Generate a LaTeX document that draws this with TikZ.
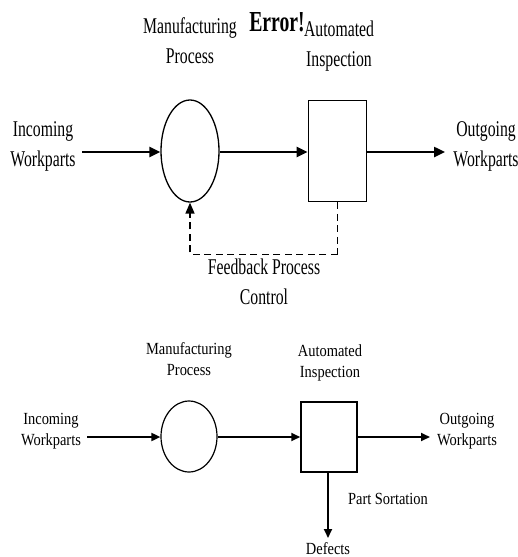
\documentclass[tikz,border=0pt]{standalone}
\usepackage{fontspec}
\setmainfont{Liberation Serif}
\usetikzlibrary{shapes.geometric,arrows.meta}
\newcommand{\cnd}[2]{\scalebox{#1}[1]{\begin{tabular}{@{}c@{}}#2\end{tabular}}}
\tikzset{
  topfont/.style={inner sep=0pt,font=\fontsize{22.5}{30}\selectfont},
  botfont/.style={inner sep=0pt,font=\fontsize{17}{21}\selectfont},
  arrA/.style={line width=2.4pt,-{Triangle[length=11pt,width=10pt]}},
  arrB/.style={line width=1.8pt,-{Triangle[length=9pt,width=8pt]}},
  procA/.style={ellipse,draw,line width=1.3pt,minimum width=58pt,minimum height=102pt,inner sep=0pt},
  boxA/.style={rectangle,draw,line width=1.8pt,minimum width=58pt,minimum height=101pt,inner sep=0pt},
  procB/.style={ellipse,draw,line width=1.2pt,minimum width=56pt,minimum height=71pt,inner sep=0pt},
  boxB/.style={rectangle,draw,line width=1.5pt,minimum width=56pt,minimum height=70pt,inner sep=0pt},
  fb/.style={line width=1.7pt,dash pattern=on 7pt off 4.5pt}
}
\begin{document}
\begin{tikzpicture}[x=1pt,y=-1pt]
\useasboundingbox (0,0) rectangle (518,557);
% ---- top diagram ----
\node[procA] (p1) at (190,151) {};
\node[boxA] (b1) at (337.5,151) {};
\node[topfont] (in1) at (43,145) {\cnd{0.7}{Incoming\\Workparts}};
\node[topfont] (out1) at (486,145) {\cnd{0.7}{Outgoing\\Workparts}};
\node[topfont] (mfg1) at (190,42) {\cnd{0.7}{Manufacturing\\Process}};
\node[topfont] (auto1) at (339,45) {\cnd{0.7}{Automated\\Inspection}};
\node[inner sep=0pt,font=\fontsize{29}{30}\selectfont\bfseries] (err) at (277,22) {\scalebox{0.68}[1]{Error!}};
\node[topfont] (fbt) at (264,283) {\cnd{0.7}{Feedback Process\\Control}};
\coordinate (s1) at (82,152);
\coordinate (e1) at (445,152);
\draw[arrA] (s1) -- (p1.west |- s1);
\draw[arrA] (p1.east |- s1) -- (b1.west |- s1);
\draw[arrA] (b1.east |- s1) -- (e1);
\draw[fb] (b1.south) -- ++(0,52) coordinate (fbc);
\draw[fb,-{Triangle[length=11pt,width=9pt]}] (fbc) -| (p1.south);
% ---- bottom diagram ----
\node[procB] (p2) at (189,436.5) {};
\node[boxB] (b2) at (329,437) {};
\node[botfont] (in2) at (51,431) {\cnd{0.85}{Incoming\\Workparts}};
\node[botfont] (out2) at (467,431) {\cnd{0.85}{Outgoing\\Workparts}};
\node[botfont] (mfg2) at (189,361) {\cnd{0.85}{Manufacturing\\Process}};
\node[botfont] (auto2) at (330,363) {\cnd{0.85}{Automated\\Inspection}};
\node[botfont] (ps) at (388,500) {\cnd{0.85}{Part Sortation}};
\node[botfont] (def) at (328,550) {\cnd{0.85}{Defects}};
\coordinate (s2) at (87,437);
\coordinate (e2) at (430,437);
\coordinate (d2) at (328,538);
\draw[arrB] (s2) -- (p2.west |- s2);
\draw[arrB] (p2.east |- s2) -- (b2.west |- s2);
\draw[arrB] (b2.east |- s2) -- (e2);
\draw[arrB] (b2.south -| d2) -- (d2);
\end{tikzpicture}
\end{document}
